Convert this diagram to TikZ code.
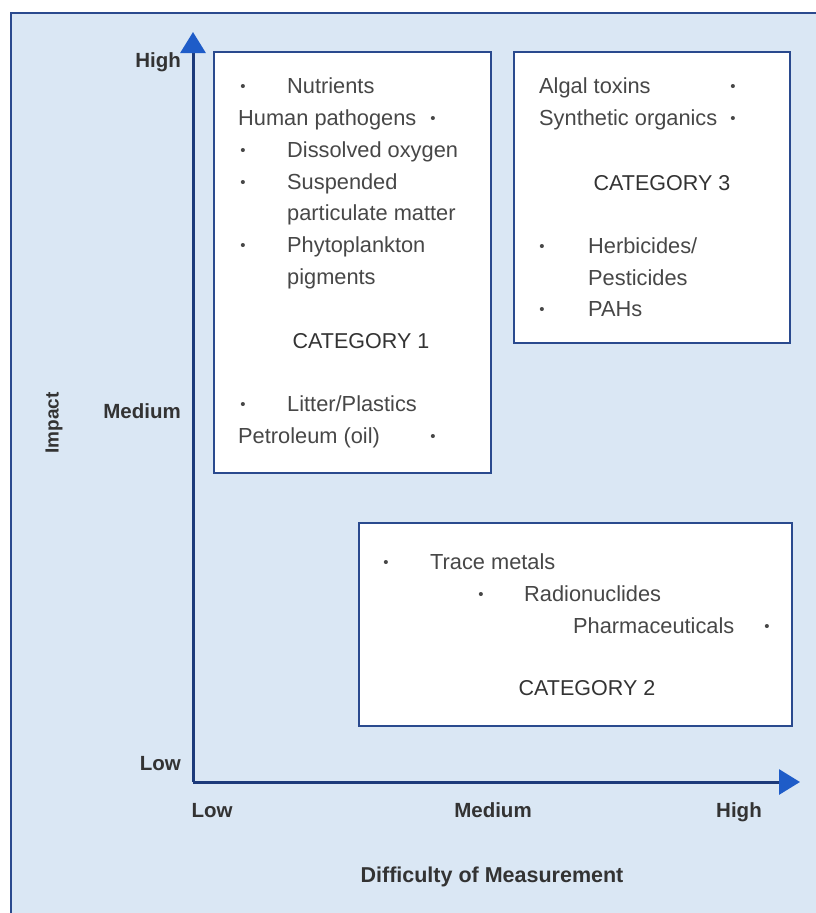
\documentclass[tikz,border=0pt]{standalone}
\usepackage{fontspec}
\setmainfont{Liberation Sans}
\usetikzlibrary{arrows.meta}
\definecolor{bg}{HTML}{DAE7F4}
\definecolor{frame}{HTML}{2A4A8E}
\definecolor{axline}{HTML}{1C3A7A}
\definecolor{axhead}{HTML}{1E5CC8}
\definecolor{txt}{HTML}{474747}
\definecolor{lbl}{HTML}{333333}
\begin{document}
\begin{tikzpicture}[x=1pt,y=-1pt,
  item/.style={anchor=mid west,inner sep=0pt,font=\fontsize{21.8}{25}\selectfont,text=txt},
  bul/.style={anchor=center,inner sep=0pt,font=\fontsize{15}{17}\selectfont,text=txt},
  cat/.style={anchor=mid,inner sep=0pt,font=\fontsize{21.5}{25}\selectfont,text=lbl},
  tick/.style={inner sep=0pt,font=\bfseries\fontsize{20.5}{24}\selectfont,text=lbl},
  catbox/.style={draw=frame,line width=1.6pt,fill=white,inner sep=0pt},
  axis/.style={draw=axline,line width=3pt,-{Triangle[length=21pt,width=25pt,color=axhead]}}]
\useasboundingbox (0,0) rectangle (816,913);
\fill[white] (0,0) rectangle (816,913);
\fill[bg] (11,13) rectangle (816,913);
\draw[frame,line width=2pt] (11,913) -- (11,13) -- (816,13);

% boxes
\node[catbox,minimum width=277pt,minimum height=421pt] (box1) at (352.5,262.5) {};
\node[catbox,minimum width=276pt,minimum height=291pt] (box3) at (652,197.5) {};
\node[catbox,minimum width=433pt,minimum height=203pt] (box2) at (575.5,624.5) {};

% axes
\coordinate (origin) at (193,782);
\coordinate (ytip) at (193,32);
\coordinate (xtip) at (800,782);
\draw[axis] (origin) -- (ytip);
\draw[axis] (origin) -- (xtip);

% axis labels
\node[tick,anchor=mid east] (yhigh) at (181,65) {High};
\node[tick,anchor=mid east] (ymed) at (181,416) {Medium};
\node[tick,anchor=mid east] (ylow) at (181,768) {Low};
\node[tick,rotate=90,font=\bfseries\fontsize{19}{23}\selectfont] (impact) at (54,423) {Impact};
\node[tick,anchor=mid] (xlow) at (212,815) {Low};
\node[tick,anchor=mid] (xmed) at (493,815) {Medium};
\node[tick,anchor=mid] (xhigh) at (739,815) {High};
\node[tick,anchor=mid,font=\bfseries\fontsize{21.5}{25}\selectfont] (xtitle) at (492,880) {Difficulty of Measurement};

% category 1
\node[bul] (b1a) at (243,88) {•};
\node[item] (t1a) at (287,91) {Nutrients};
\node[item] (t1b) at (238,123) {Human pathogens};
\node[bul] (b1b) at (433,120) {•};
\node[bul] (b1c) at (243,152) {•};
\node[item] (t1c) at (287,155) {Dissolved oxygen};
\node[bul] (b1d) at (243,184) {•};
\node[item] (t1d) at (287,187) {Suspended};
\node[item] (t1e) at (287,218) {particulate matter};
\node[bul] (b1f) at (243,247) {•};
\node[item] (t1f) at (287,250) {Phytoplankton};
\node[item] (t1g) at (287,282) {pigments};
\node[cat] (c1) at (361,346) {CATEGORY 1};
\node[bul] (b1h) at (243,406) {•};
\node[item] (t1h) at (287,409) {Litter/Plastics};
\node[item] (t1i) at (238,441) {Petroleum (oil)};
\node[bul] (b1i) at (433,438) {•};

% category 3
\node[item] (t3a) at (539,91) {Algal toxins};
\node[bul] (b3a) at (733,88) {•};
\node[item] (t3b) at (539,123) {Synthetic organics};
\node[bul] (b3b) at (733,120) {•};
\node[cat] (c3) at (662,188) {CATEGORY 3};
\node[bul] (b3c) at (542,248) {•};
\node[item] (t3c) at (588,251) {Herbicides/};
\node[item] (t3d) at (588,283) {Pesticides};
\node[bul] (b3e) at (542,311) {•};
\node[item] (t3e) at (588,314) {PAHs};

% category 2
\node[bul] (b2a) at (386,564) {•};
\node[item] (t2a) at (430,567) {Trace metals};
\node[bul] (b2b) at (481,596) {•};
\node[item] (t2b) at (524,599) {Radionuclides};
\node[item] (t2c) at (573,631) {Pharmaceuticals};
\node[bul] (b2c) at (767,628) {•};
\node[cat] (c2) at (587,693) {CATEGORY 2};
\end{tikzpicture}
\end{document}
